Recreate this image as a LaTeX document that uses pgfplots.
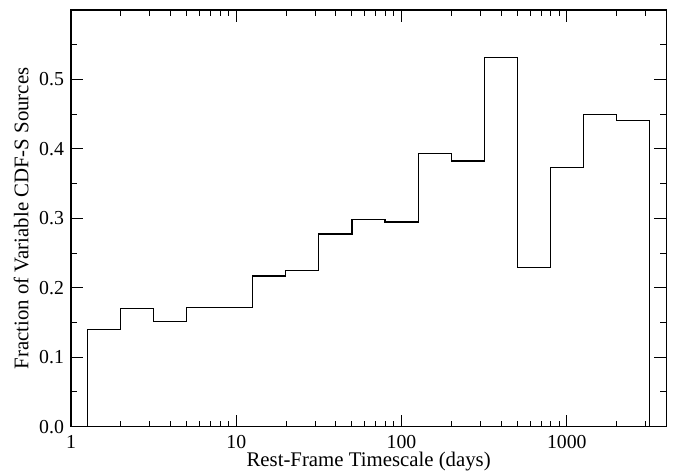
\documentclass[border=0pt]{standalone}
\usepackage{fontspec}
\setmainfont{Liberation Serif}
\usepackage{pgfplots}
\pgfplotsset{compat=1.18}
\begin{document}
\begin{tikzpicture}
\useasboundingbox (0,0) rectangle (339pt,235.5pt);
\begin{axis}[
  at={(35.5pt,22.15pt)}, anchor=south west,
  scale only axis, width=297.65pt, height=208.35pt,
  xmode=log, xmin=1, xmax=4000, ymin=0, ymax=0.6,
  xtick={1,10,100,1000}, xticklabels={1,10,100,1000},
  minor xtick={2,3,4,5,6,7,8,9,20,30,40,50,60,70,80,90,200,300,400,500,600,700,800,900,2000,3000},
  ytick={0,0.1,0.2,0.3,0.4,0.5},
  minor ytick={0.05,0.15,0.25,0.35,0.45,0.55},
  yticklabel style={/pgf/number format/fixed,/pgf/number format/fixed zerofill,/pgf/number format/precision=1},
  /pgf/number format/assume math mode=true,
  tick align=inside, tick pos=both,
  major tick length=6pt, minor tick length=3pt,
  every tick/.style={black, line width=0.5pt},
  axis line style={line width=0.6pt},
  tick label style={font=\fontsize{9.9}{11}\selectfont},
  label style={font=\fontsize{10.4}{12}\selectfont},
  xticklabel style={yshift=-0.8pt},
  xlabel={Rest-Frame Timescale (days)},
  ylabel={Fraction of Variable CDF-S Sources},
  xlabel style={at={([yshift=-20pt]axis description cs:0.5,0)}, anchor=base, inner sep=0pt},
  ylabel style={at={([xshift=-21pt]axis description cs:0,0.5)}, anchor=south, inner sep=0pt},
]
\addplot[const plot, black, line width=0.55pt] coordinates {
(1.2589,0)
(1.2589,0.140)
(1.9953,0.170)
(3.1623,0.151)
(5.0119,0.172)
(7.9433,0.171)
(12.589,0.217)
(19.953,0.225)
(31.623,0.2775)
(50.119,0.298)
(79.433,0.2947)
(125.89,0.393)
(199.53,0.3826)
(316.23,0.532)
(501.19,0.229)
(794.33,0.373)
(1258.9,0.4498)
(1995.3,0.4406)
(3162.3,0.4406)
(3162.3,0)
};
\end{axis}
\end{tikzpicture}
\end{document}
